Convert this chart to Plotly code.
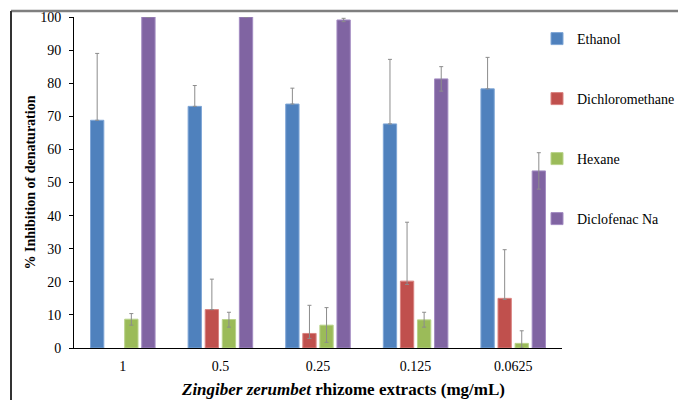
import plotly.graph_objects as go

categories = ["1", "0.5", "0.25", "0.125", "0.0625"]
series_names = ["Ethanol", "Dichloromethane", "Hexane", "Diclofenac Na"]
ethanol = [68.8, 73.0, 73.7, 67.7, 78.3]
ethanol_err_plus = [20.2, 6.3, 4.8, 19.5, 9.5]
ethanol_err_minus = [0, 0, 0, 0, 0]
dcm = [None, 11.6, 4.4, 20.2, 15.0]
dcm_err_plus = [None, 9.2, 8.5, 17.8, 14.7]
dcm_err_minus = [None, 0, 1.5, 1.0, 0.3]
hexane = [8.7, 8.6, 6.9, 8.5, 1.4]
hexane_err_plus = [1.7, 2.2, 5.3, 2.3, 3.8]
hexane_err_minus = [1.8, 2.3, 5.2, 2.2, 1.4]
diclofenac = [100, 100, 99.1, 81.3, 53.5]
diclofenac_err_plus = [None, None, 0.5, 3.7, 5.5]
diclofenac_err_minus = [None, None, 0.5, 3.7, 5.5]

colors = ["#4F81BD", "#C0504D", "#9BBB59", "#8064A2"]
line_colors = ["#7FA6D6", "#D98380", "#B9D38A", "#A38CC2"]

values = [ethanol, dcm, hexane, diclofenac]
plus = [ethanol_err_plus, dcm_err_plus, hexane_err_plus, diclofenac_err_plus]
minus = [ethanol_err_minus, dcm_err_minus, hexane_err_minus, diclofenac_err_minus]

FONT = "Liberation Serif"

fig = go.Figure()
for i, name in enumerate(series_names):
    fig.add_trace(go.Bar(
        x=categories, y=values[i], name=name,
        legendgroup=name,
        marker=dict(color=colors[i], line=dict(color=line_colors[i], width=1)),
        error_y=dict(type="data", symmetric=False, array=plus[i], arrayminus=minus[i],
                     color="#8c8c8c", thickness=1, width=2),
    ))

# plot area: x 74..562, y 17..348
L, R, T, B = 74, 562, 17, 348
W, H = R - L, B - T

def px_x(p):
    return (p - L) / W

def px_y(p):
    return (B - p) / H

fig.update_layout(
    width=678, height=400,
    margin=dict(l=L, r=678 - R, t=T, b=400 - B, autoexpand=False),
    paper_bgcolor="white", plot_bgcolor="white",
    barmode="group", bargap=0.3, bargroupgap=0.22,
    font=dict(family=FONT, size=14, color="#000000"),
    showlegend=True,
    legend=dict(x=px_x(537), y=px_y(23), xanchor="left", yanchor="top",
                font=dict(family=FONT, size=14, color="#000000"),
                tracegroupgap=38.8, itemwidth=30, bgcolor="rgba(0,0,0,0)",
                entrywidth=80, entrywidthmode="pixels"),
    xaxis=dict(showline=True, linecolor="#000000", linewidth=1,
               ticks="", tickfont=dict(family=FONT, size=14), showgrid=False,
               ticklabelstandoff=5),
    yaxis=dict(range=[0, 100], dtick=10, showline=True, linecolor="#000000", linewidth=1,
               ticks="outside", ticklen=4, tickcolor="#000000", showgrid=False,
               zeroline=False, tickfont=dict(family=FONT, size=14), ticklabelstandoff=5,
               title=dict(text="<b>% Inhibition of denaturation</b>",
                          font=dict(family=FONT, size=14), standoff=1)),
    annotations=[dict(
        text="<b><i>Zingiber zerumbet</i> rhizome extracts (mg/mL)</b>",
        xref="paper", yref="paper", x=px_x(343), y=px_y(389),
        xanchor="center", yanchor="middle", showarrow=False,
        font=dict(family=FONT, size=17, color="#000000"))],
    shapes=[
        dict(type="line", xref="paper", yref="paper", x0=px_x(11), x1=px_x(678),
             y0=px_y(11), y1=px_y(11), line=dict(color="#7f7f7f", width=2.5)),
        dict(type="line", xref="paper", yref="paper", x0=px_x(11), x1=px_x(11),
             y0=px_y(11), y1=px_y(400), line=dict(color="#333333", width=2)),
    ],
)

fig.write_html("out.html", config={"displayModeBar": False},
               post_script="document.body.style.margin='0';")
